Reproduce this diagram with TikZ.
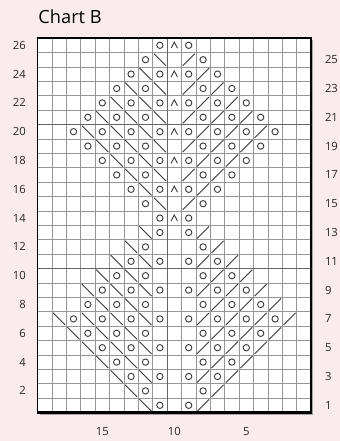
\documentclass[tikz,border=0pt]{standalone}
\usepackage{fontspec}
\setmainfont{Open Sans}
\usepackage{xcolor}
\usepackage{tikz}
\definecolor{fond}{RGB}{250,236,236}
\definecolor{trait}{RGB}{55,55,55}
\definecolor{grille}{RGB}{150,150,150}
\begin{document}
\begin{tikzpicture}[x=0.4cm,y=0.4cm,
    sym/.style={trait,line width=0.7pt},
    num/.style={font=\fontsize{8.9}{10}\selectfont,text=black!85,inner sep=0pt}]
      \fill[fond](-2.604,-1.979) rectangle (21.007,28.646);
      \useasboundingbox (-2.604,-1.979) rectangle (21.007,28.646);
      % grille
      \fill[black!35](0.15,-0.15) rectangle (19.15,25.85);
      \fill[white](0,0) rectangle (19,26);
      \draw[grille,line width=0.45pt,step=0.4cm](0,0) grid (19,26);
      \draw[black!60,line width=0.9pt](0,10)--(19,10) (0,20)--(19,20) (9,0)--(9,26);
      \draw[black,line width=1pt](0,0) rectangle (19,26);
      \draw[black,line width=1.8pt](0,0)--(19,0)--(19,26);
      % numeros
      \node[font=\fontsize{14.4}{16}\selectfont,anchor=base west,inner sep=0pt] (titre) at (0.05,26.98) {Chart B};
      \foreach \r in {2,4,...,26}
        \node[num,anchor=east] (g\r) at (-0.8,\r-0.5) {\r};
      \foreach \r in {1,3,...,25}
        \node[num,anchor=west] (d\r) at (19.95,\r-0.5) {\r};
      \foreach \c in {15,10,5}
        \node[num] (b\c) at (19.5-\c,-1.35) {\c};
      % jetés
      \foreach \r/\cs in {1/{11,9},2/{12,8},3/{13,11,9,7},4/{14,12,8,6},5/{15,13,11,9,7,5},
          6/{16,14,12,8,6,4},7/{17,15,13,11,9,7,5,3},8/{16,14,12,8,6,4},9/{15,13,11,9,7,5},
          10/{14,12,8,6},11/{13,11,9,7},12/{12,8},13/{11,9},14/{11,9},15/{12,8},
          16/{13,11,9,7},17/{14,12,8,6},18/{15,13,11,9,7,5},19/{16,14,12,8,6,4},
          20/{17,15,13,11,9,7,5,3},21/{16,14,12,8,6,4},22/{15,13,11,9,7,5},
          23/{14,12,8,6},24/{13,11,9,7},25/{12,8},26/{11,9}}{
        \foreach \c in \cs
          \draw[sym](19.5-\c,\r-0.5) circle (0.22);}
      % ssk
      \foreach \r/\cs in {1/{12},2/{13},3/{14,12},4/{15,13},5/{16,14,12},6/{17,15,13},
          7/{18,16,14,12},8/{15,13},9/{16,14,12},10/{15,13},11/{14,12},12/{13},13/{12},
          15/{11},16/{12},17/{13,11},18/{14,12},19/{15,13,11},20/{16,14,12},
          21/{15,13,11},22/{14,12},23/{13,11},24/{12},25/{11}}{
        \foreach \c in \cs
          \draw[sym](19.5-\c,\r-0.5) ++(-0.42,0.42) -- ++(0.84,-0.84);}
      % k2tog
      \foreach \r/\cs in {1/{8},2/{7},3/{8,6},4/{7,5},5/{8,6,4},6/{7,5,3},7/{8,6,4,2},
          8/{7,5,3},9/{8,6,4},10/{7,5},11/{8,6},12/{7},13/{8},15/{9},16/{8},17/{9,7},
          18/{8,6},19/{9,7,5},20/{8,6,4},21/{9,7,5},22/{8,6},23/{9,7},24/{8},25/{9}}{
        \foreach \c in \cs
          \draw[sym](19.5-\c,\r-0.5) ++(-0.42,-0.42) -- ++(0.84,0.84);}
      % sk2p
      \foreach \r in {14,16,...,26}
        \draw[sym](9.5,\r-0.5) ++(-0.22,-0.2) -- ++(0.22,0.42) -- ++(0.22,-0.42);
    \end{tikzpicture}
\end{document}
